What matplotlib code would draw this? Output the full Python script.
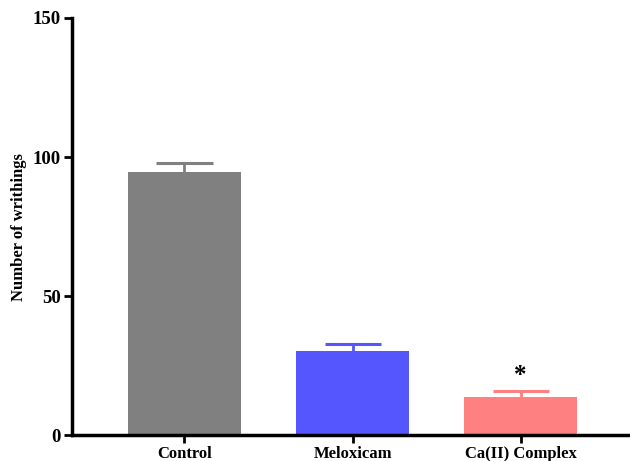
import matplotlib
matplotlib.use("Agg")
import matplotlib.pyplot as plt

groups = ["Control", "Meloxicam", "Ca(II) Complex"]
writhings = [94.7, 30.2, 13.7]
errors = [3.3, 2.6, 2.2]
bar_colors = ["#808080", "#5656FF", "#FF8080"]

plt.rcParams["font.family"] = "Liberation Serif"
plt.rcParams["font.weight"] = "bold"

fig = plt.figure(figsize=(6.3, 4.61), dpi=100)
ax = fig.add_axes([0.114, 0.056, 0.886, 0.905])

x = list(range(len(groups)))
ax.bar(x, writhings, width=0.67, color=bar_colors, zorder=2)
# upper error bars only
for i in x:
    top = writhings[i] + errors[i]
    ax.vlines(i, writhings[i], top, color=bar_colors[i], lw=2, zorder=1)
    ax.hlines(top, i - 0.167, i + 0.167, color=bar_colors[i], lw=2.2, zorder=1)

ax.text(2, writhings[2] + errors[2] + 1.5, "*", ha="center", va="bottom", fontsize=18, fontweight="bold")

ax.set_xlim(-0.67, 2.65)
ax.set_ylim(0, 150)
ax.set_yticks([0, 50, 100, 150])
ax.set_xticks(x)
ax.set_xticklabels(groups, fontsize=12, fontweight="bold")
ax.tick_params(axis="y", labelsize=13.5, width=2, length=6, pad=2)
ax.tick_params(axis="x", width=2, length=6, pad=2)
for t in ax.get_yticklabels():
    t.set_fontweight("bold")
ax.set_ylabel("Number of writhings", fontsize=12, fontweight="bold", labelpad=4)

ax.spines["top"].set_visible(False)
ax.spines["right"].set_visible(False)
ax.spines["left"].set_linewidth(2.5)
ax.spines["bottom"].set_linewidth(2.5)

fig.savefig("out.png", dpi=100)
